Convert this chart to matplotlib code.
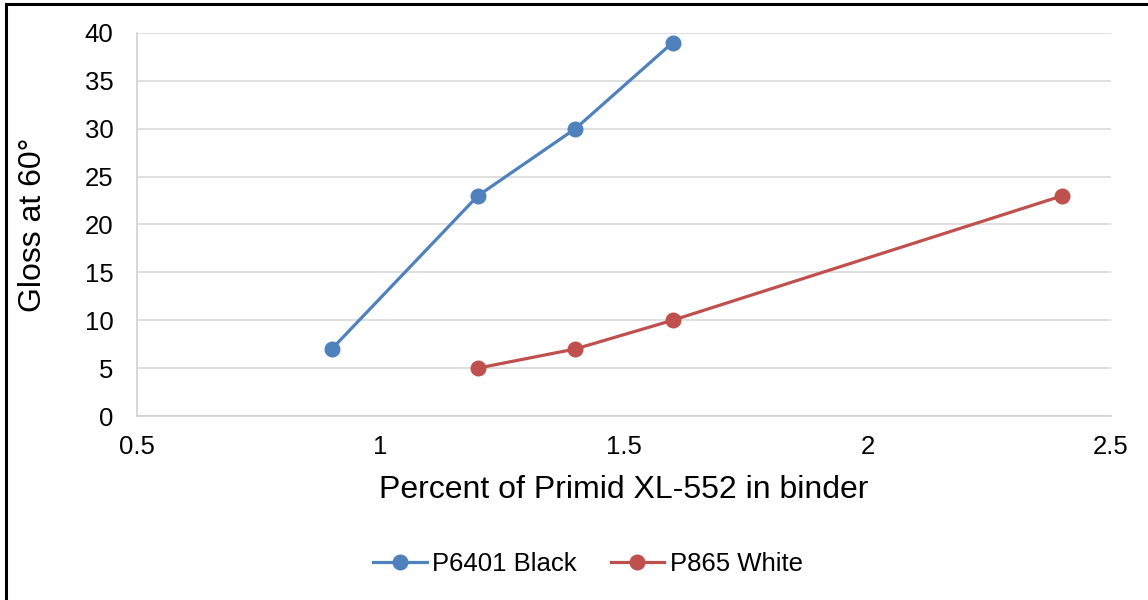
import matplotlib
matplotlib.use("Agg")
import matplotlib.pyplot as plt
from matplotlib.patches import Rectangle

plt.rcParams['font.family'] = ['Liberation Sans', 'DejaVu Sans']

black_x = [0.9, 1.2, 1.4, 1.6]
black_y = [7, 23, 30, 39]
white_x = [1.2, 1.4, 1.6, 2.4]
white_y = [5, 7, 10, 23]
series_names = ["P6401 Black", "P865 White"]
xticks = [0.5, 1, 1.5, 2, 2.5]
xtick_labels = ["0.5", "1", "1.5", "2", "2.5"]
yticks = [0, 5, 10, 15, 20, 25, 30, 35, 40]

fig = plt.figure(figsize=(11.48, 6.0), dpi=100)
ax = fig.add_axes([137/1148, 1-416/600, (1111-137)/1148, (416-33)/600])

ax.plot(black_x, black_y, color='#4F81BD', lw=2.3, marker='o', ms=10.5, label=series_names[0], zorder=3)
ax.plot(white_x, white_y, color='#C0504D', lw=2.3, marker='o', ms=10.5, label=series_names[1], zorder=3)

ax.set_xlim(0.5, 2.5)
ax.set_ylim(0, 40)
ax.set_xticks(xticks)
ax.set_xticklabels(xtick_labels)
ax.set_yticks(yticks)
ax.tick_params(axis='both', length=0, labelsize=18.5)
ax.tick_params(axis='x', pad=14)
ax.tick_params(axis='y', pad=17)
ax.grid(axis='y', color='#D9D9D9', lw=1.2)
ax.set_axisbelow(True)
for s in ['top', 'right']:
    ax.spines[s].set_visible(False)
for s in ['left', 'bottom']:
    ax.spines[s].set_color('#D0D0D0')
    ax.spines[s].set_linewidth(1.2)

fig.text(624/1148, 1-490/600, "Percent of Primid XL-552 in binder", ha='center', va='center', fontsize=23)
fig.text(33/1148, 1-225/600, "Gloss at 60°", ha='center', va='center', rotation=90, fontsize=23)

leg = fig.legend(loc='center', bbox_to_anchor=(588/1148, 1-564/600), ncol=2, frameon=False,
                 fontsize=18.5, handlelength=2.1, columnspacing=1.3, handletextpad=0.2)

fig.patches.append(Rectangle((6/1148, -0.1), 1.2, 0.1 + 1-4/600, transform=fig.transFigure,
                             fill=False, edgecolor='black', lw=2.2))

fig.savefig("out.png", dpi=100)
